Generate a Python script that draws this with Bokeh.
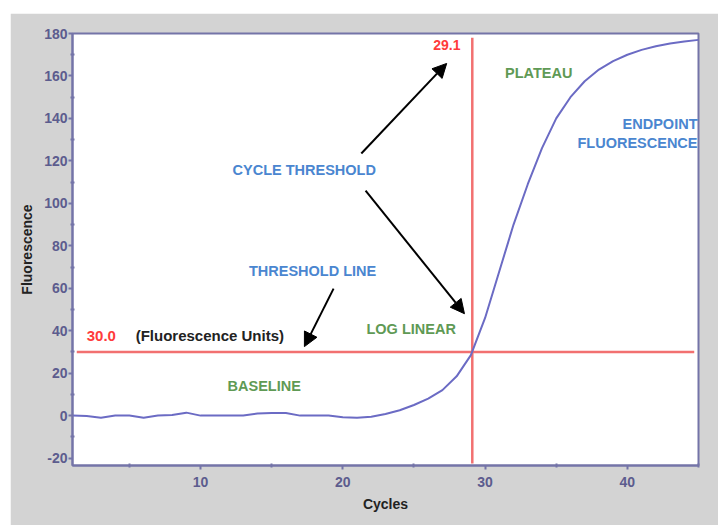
from bokeh.plotting import figure
from bokeh.models import Arrow, NormalHead, Label, Range1d, FixedTicker, Spacer, CustomJSTickFormatter
from bokeh.layouts import column, row
from bokeh.embed import file_html
from bokeh.resources import INLINE

# ---- data ----
cycles = list(range(1, 46))
fluorescence = [0.0, -0.2, -1.0, 0.0, 0.0, -1.0, 0.0, 0.3, 1.4, 0.0,
                0.0, 0.0, 0.0, 1.0, 1.2, 1.2, 0.0, 0.0, 0.0, -0.8,
                -1.0, -0.5, 0.8, 2.5, 5.0, 8.0, 12.0, 18.5, 28.5, 46.0,
                68.0, 90.0, 109.0, 126.0, 140.0, 150.0, 157.5, 163.0, 167.0, 170.0,
                172.3, 174.0, 175.3, 176.2, 177.0]
threshold_value = 30.0
ct_value = 29.1
x_ticks = [10, 20, 30, 40]
y_ticks = [-20, 0, 20, 40, 60, 80, 100, 120, 140, 160, 180]

FONT = "Liberation Sans"
BLUE = "#4a86d0"
GREEN = "#5f9a55"
RED = "#ff3b3b"
AXIS = "#7474a8"

p = figure(width=708, height=512, output_backend="svg", toolbar_location=None,
           x_range=Range1d(1, 45), y_range=Range1d(-23.5, 180),
           min_border_left=62, min_border_right=20, min_border_top=20, min_border_bottom=60)
p.background_fill_color = "white"
p.border_fill_color = "#d3d3d3"
p.outline_line_color = AXIS
p.outline_line_width = 2
p.grid.visible = False

for ax in (p.xaxis[0], p.yaxis[0]):
    ax.axis_line_color = AXIS
    ax.axis_line_width = 2
    ax.major_tick_line_color = AXIS
    ax.minor_tick_line_color = AXIS
    ax.major_tick_line_width = 2
    ax.minor_tick_line_width = 2
    ax.major_tick_out = 4
    ax.major_tick_in = 0
    ax.minor_tick_out = 2
    ax.minor_tick_in = 2
    ax.major_label_text_color = "#5c5c8e"
    ax.major_label_text_font = FONT
    ax.major_label_text_font_size = "14px"
    ax.major_label_text_font_style = "bold"
    ax.axis_label_text_font = FONT
    ax.axis_label_text_font_style = "bold"
    ax.axis_label_text_font_size = "14px"
    ax.axis_label_text_color = "#222222"
    ax.formatter = CustomJSTickFormatter(code="return tick.toString();")

p.xaxis.ticker = FixedTicker(ticks=x_ticks, minor_ticks=[5, 15, 25, 35, 45])
p.yaxis.ticker = FixedTicker(ticks=y_ticks, minor_ticks=[-10, 10, 30, 50, 70, 90, 110, 130, 150, 170])
p.yaxis.axis_label = "Fluorescence"
p.yaxis.axis_label_standoff = 6
p.yaxis.major_label_standoff = 1
p.xaxis.axis_label = "Cycles"
p.xaxis.axis_label_standoff = 6
p.xaxis.major_label_standoff = 7

# threshold lines
p.line([1.3, 44.7], [threshold_value, threshold_value], line_color="#f27070", line_width=2.5)
p.line([ct_value, ct_value], [-22.5, 178], line_color="#f27070", line_width=2.5)

# amplification curve
p.line(cycles, fluorescence, line_color="#6b6bc4", line_width=2, line_join="round")

# arrows
head = dict(size=14, fill_color="black", line_color="black")
for xs, ys, xe, ye in [(21.3, 123.5, 27.3, 165.9),
                       (21.6, 106.0, 28.55, 48.0),
                       (19.35, 59.8, 17.3, 32.5)]:
    p.add_layout(Arrow(end=NormalHead(**head), x_start=xs, y_start=ys, x_end=xe, y_end=ye,
                       line_color="black", line_width=2))

def lab(x, y, t, color, align="left", size="14.5px", style="bold"):
    p.add_layout(Label(x=x, y=y, text=t, text_color=color, text_align=align,
                       text_baseline="middle", text_font=FONT, text_font_size=size,
                       text_font_style=style))

lab(28.27, 174.4, "29.1", RED, align="right", size="14px")
lab(2.0, 37.7, "30.0", RED, size="15px")
lab(5.44, 37.7, "(Fluorescence Units)", "#222222", size="15px")
lab(12.25, 115.5, "CYCLE THRESHOLD", BLUE)
lab(13.4, 68.3, "THRESHOLD LINE", BLUE)
lab(21.66, 41.0, "LOG LINEAR", GREEN)
lab(11.9, 14.1, "BASELINE", GREEN)
lab(31.4, 161.6, "PLATEAU", GREEN)
lab(44.93, 137.6, "ENDPOINT", BLUE, align="right")
lab(44.93, 128.2, "FLUORESCENCE", BLUE, align="right")

layout = column(Spacer(height=13), row(Spacer(width=10), p))
open("out.html", "w").write(file_html(layout, INLINE))
